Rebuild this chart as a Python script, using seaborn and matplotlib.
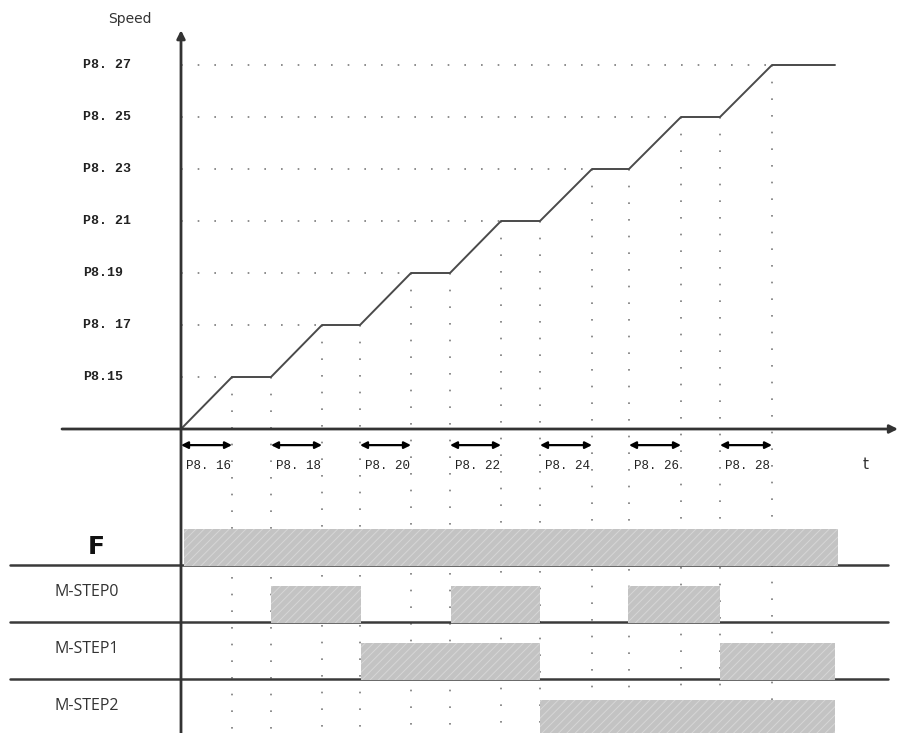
import matplotlib
matplotlib.use("Agg")
import matplotlib.pyplot as plt
import seaborn as sns
import pandas as pd

sns.set_theme(style="white")
plt.rcParams['font.family'] = ['DejaVu Sans']
plt.rcParams['hatch.linewidth'] = 0.7

# ---- data (time in arbitrary units, speed in step levels) ----
accel_start = [0.0, 9.0, 17.9, 26.9, 35.9, 44.8, 53.9]
accel_end = [5.1, 14.1, 23.0, 32.0, 41.1, 50.0, 59.1]
t_end = 65.4
speed_levels = [1, 2, 3, 4, 5, 6, 7]
speed_labels = ["P8.15", "P8. 17", "P8.19", "P8. 21", "P8. 23", "P8. 25", "P8. 27"]
accel_labels = ["P8. 16", "P8. 18", "P8. 20", "P8. 22", "P8. 24", "P8. 26", "P8. 28"]

signal_names = ["F", "M-STEP0", "M-STEP1", "M-STEP2"]
signal_on = {
    "F": [(0.3, 65.7)],
    "M-STEP0": [(9.0, 18.0), (27.0, 35.9), (44.7, 53.9)],
    "M-STEP1": [(18.0, 35.9), (53.9, 65.4)],
    "M-STEP2": [(35.9, 65.4)],
}
signal_base = [-2.615, -3.712, -4.808, -5.904]
box_h = 0.70

# ---- build speed profile table ----
tt, vv = [0.0], [0.0]
for i, lvl in enumerate(speed_levels):
    tt.append(accel_end[i]); vv.append(lvl)
    hold_end = accel_start[i + 1] if i + 1 < len(accel_start) else t_end
    tt.append(hold_end); vv.append(lvl)
profile = pd.DataFrame({"t": tt, "speed": vv})

fig = plt.figure(figsize=(8.98, 7.33), dpi=100)
ax = fig.add_axes([0, 0, 1, 1])
XMIN, XMAX = -18.1, 71.7
YMIN, YMAX = -5.846, 8.25
ax.set_xlim(XMIN, XMAX)
ax.set_ylim(YMIN, YMAX)
ax.axis("off")

dot_kw = dict(color="#7a7a7a", lw=1.2, linestyle=(0, (1, 9)), zorder=1)

# horizontal dotted guides
for i, lvl in enumerate(speed_levels):
    ax.plot([0, accel_end[i]], [lvl, lvl], **dot_kw)
# vertical dotted guides
for i, lvl in enumerate(speed_levels):
    ax.plot([accel_end[i], accel_end[i]], [lvl, YMIN], **dot_kw)
    hold_end = accel_start[i + 1] if i + 1 < len(accel_start) else None
    if hold_end is not None:
        ax.plot([hold_end, hold_end], [lvl, YMIN], **dot_kw)

# speed profile
sns.lineplot(data=profile, x="t", y="speed", ax=ax, color="#4a4a4a", lw=1.4,
             sort=False, zorder=4)

# axes with arrows
ax.annotate("", xy=(XMAX, 0), xytext=(-11.9, 0),
            arrowprops=dict(arrowstyle="-|>", color="#333333", lw=2,
                            mutation_scale=12, shrinkA=0, shrinkB=0), zorder=5)
ax.annotate("", xy=(0, 7.67), xytext=(0, YMIN),
            arrowprops=dict(arrowstyle="-|>", color="#333333", lw=2,
                            mutation_scale=12, shrinkA=0, shrinkB=0), zorder=5)

mono = ["Liberation Mono", "DejaVu Sans Mono"]
ax.text(-5.1, 7.88, "Speed", ha="center", va="center", fontsize=10, color="#333333")
for lvl, lab in zip(speed_levels, speed_labels):
    ax.text(-9.8, lvl, lab, ha="left", va="center", fontsize=9.5,
            family=mono, fontweight="bold", color="#222222")

# double arrows for accel times
for s, e, lab in zip(accel_start, accel_end, accel_labels):
    ax.annotate("", xy=(e, -0.31), xytext=(s, -0.31),
                arrowprops=dict(arrowstyle="<|-|>", color="black", lw=1.6,
                                mutation_scale=10, shrinkA=0, shrinkB=0), zorder=5)
    ax.text((s + e) / 2 + 0.2, -0.71, lab, ha="center", va="center", fontsize=9,
            family=mono, color="#222222")
ax.text(68.5, -0.69, "t", ha="center", va="center", fontsize=11, color="#333333")

# signal rows
for name, base in zip(signal_names, signal_base):
    ax.plot([-17.1, 70.7], [base, base], color="#3a3a3a", lw=1.8, zorder=2)
    for s, e in signal_on[name]:
        ax.fill_between([s, e], base - 0.02, base + box_h, facecolor="#c3c3c3",
                        edgecolor="#d6d6d6", hatch="////", linewidth=0, zorder=3)
    if name == "F":
        ax.text(-8.5, base + 0.34, name, ha="center", va="center", fontsize=18,
                fontweight="bold", color="#111111")
    else:
        ax.text(-9.4, base + 0.57, name, ha="center", va="center", fontsize=11.5,
                family=["Open Sans", "DejaVu Sans"], color="#333333")

fig.savefig("out.png", dpi=100, facecolor="white")
